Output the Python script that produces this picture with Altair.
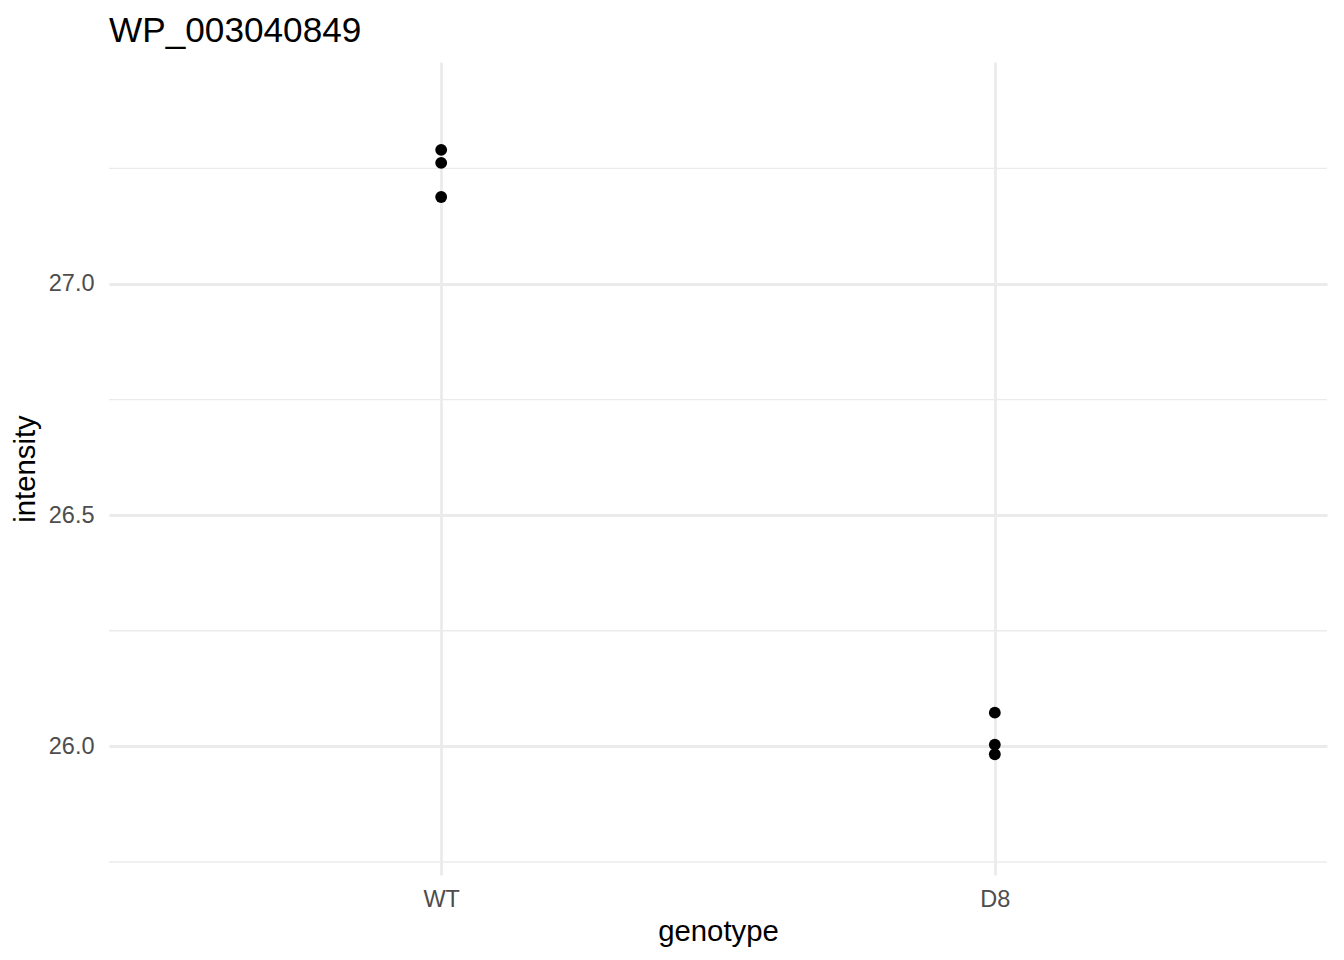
import pandas as pd
import altair as alt

# values
genotype = ["WT", "WT", "WT", "D8", "D8", "D8"]
intensity = [27.290, 27.262, 27.188, 26.073, 26.004, 25.983]
genotype_order = ["WT", "D8"]
major_ticks = [26.0, 26.5, 27.0]
minor_ticks = [25.75, 26.25, 26.75, 27.25]
y_range = [25.722, 27.480]

FONT = "Liberation Sans"
GRID = "#ebebeb"

df = pd.DataFrame({"genotype": genotype, "intensity": intensity})
minor_df = pd.DataFrame({"y": minor_ticks})

y_scale = alt.Scale(domain=y_range, nice=False, zero=False)

minor = alt.Chart(minor_df).mark_rule(color=GRID, strokeWidth=1.4).encode(
    y=alt.Y("y:Q", scale=y_scale)
)

points = alt.Chart(df).mark_circle(size=140, color="black", opacity=1).encode(
    x=alt.X(
        "genotype:N",
        sort=genotype_order,
        scale=alt.Scale(type="point", padding=0.6),
        axis=alt.Axis(
            title="genotype",
            labelAngle=0,
            grid=True,
            gridColor=GRID,
            gridWidth=2.8,
            domain=False,
            ticks=False,
            tickSize=0,
            labelPadding=31,
            labelBaseline="alphabetic",
            labelFontSize=23.5,
            labelColor="#4d4d4d",
            labelFont=FONT,
            titleFont=FONT,
            titleFontSize=29.3,
            titleFontWeight="normal",
            titleColor="black",
            titleBaseline="alphabetic",
            titleY=65,
        ),
    ),
    y=alt.Y(
        "intensity:Q",
        scale=y_scale,
        axis=alt.Axis(
            title="intensity",
            values=major_ticks,
            format=".1f",
            grid=True,
            gridColor=GRID,
            gridWidth=2.8,
            domain=False,
            ticks=False,
            tickSize=0,
            labelPadding=15,
            labelFontSize=23.5,
            labelColor="#4d4d4d",
            labelFont=FONT,
            titleFont=FONT,
            titleFontSize=29.3,
            titleFontWeight="normal",
            titleColor="black",
            titleBaseline="alphabetic",
            titleX=-75,
            titleAngle=-90,
        ),
    ),
)

chart = alt.layer(minor, points).properties(
    width=1218,
    height=813,
    autosize=alt.AutoSizeParams(type="none"),
    padding={"left": 101, "top": 54, "right": 9, "bottom": 77},
    title=alt.TitleParams(
        "WP_003040849",
        anchor="start",
        frame="group",
        font=FONT,
        fontSize=35.2,
        fontWeight="normal",
        color="black",
        baseline="alphabetic",
        offset=21,
        dy=36,
    ),
).configure_view(stroke=None)

chart.save("out.html", embed_options={"renderer": "svg", "actions": False})
